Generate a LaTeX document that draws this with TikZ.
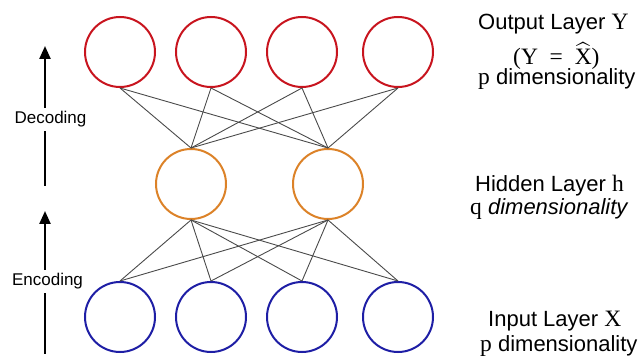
\documentclass[tikz,border=0pt]{standalone}
\usepackage{fontspec}
\setmainfont{Liberation Sans}
\newfontfamily\serifletters{Liberation Serif}
\usepackage{amsmath}
\usetikzlibrary{arrows.meta}
\definecolor{outred}{HTML}{C8141E}
\definecolor{hidorange}{HTML}{DC8228}
\definecolor{inblue}{HTML}{1E1EA5}
\definecolor{wire}{HTML}{4A4A4A}
% serif letter, enlarged so its capitals match the sans capitals
\newcommand{\sletter}[1]{{\serifletters\fontsize{23.5}{26}\selectfont #1}}
\begin{document}
\begin{tikzpicture}[x=1pt,y=-1pt,
  neuron/.style={circle,draw,line width=2pt,minimum size=70pt,inner sep=0pt},
  outn/.style={neuron,draw=outred},
  hidn/.style={neuron,draw=hidorange},
  inn/.style={neuron,draw=inblue},
  wireline/.style={draw=wire,line width=0.9pt},
  flow/.style={line width=2.4pt,-{Triangle[width=11pt,length=13pt]}},
  sidelabel/.style={font=\fontsize{17}{19}\selectfont,fill=white,inner xsep=1pt,inner ysep=4pt},
  layerlabel/.style={font=\fontsize{22}{24}\selectfont,inner sep=0pt,anchor=base west}]
\useasboundingbox (0,0) rectangle (641,358);

% output layer
\node[outn] (o1) at (120,52) {};
\node[outn] (o2) at (211,52) {};
\node[outn] (o3) at (302,52) {};
\node[outn] (o4) at (398,52) {};
% hidden layer
\node[hidn] (h1) at (191,184) {};
\node[hidn] (h2) at (328,184) {};
% input layer
\node[inn] (i1) at (120,317) {};
\node[inn] (i2) at (211,317) {};
\node[inn] (i3) at (302,317) {};
\node[inn] (i4) at (398,317) {};

% fully connected weights
\foreach \o in {o1,o2,o3,o4}
  \foreach \h in {h1,h2}
    \draw[wireline] (\o.south) -- (\h.north);
\foreach \i in {i1,i2,i3,i4}
  \foreach \h in {h1,h2}
    \draw[wireline] (\i.north) -- (\h.south);

% encoding / decoding arrows
\coordinate (decbot) at (45,186);
\coordinate (dectop) at (45,46);
\coordinate (encbot) at (45,354);
\coordinate (enctop) at (45,211);
\draw[flow] (decbot) -- (dectop);
\draw[flow] (encbot) -- (enctop);
\node[sidelabel] (declab) at (50.5,119.5) {Decoding};
\node[sidelabel] (enclab) at (47.5,281.5) {Encoding};

% layer descriptions
\node[layerlabel] (outa) at (478,30) {Output Layer \sletter{Y}};
\node[layerlabel] (outb) at (513,65) {\sletter{(Y\enspace=\enspace$\widehat{\text{\sletter{X}}}$)}};
\node[layerlabel] (outc) at (478,85) {\sletter{p} dimensionality};
\node[layerlabel] (hida) at (475,192) {Hidden Layer \sletter{h}};
\node[layerlabel] (hidb) at (470,215) {\sletter{q} \textit{dimensionality}};
\node[layerlabel] (ina) at (488,327) {Input Layer \sletter{X}};
\node[layerlabel] (inb) at (480,352) {\sletter{p} dimensionality};
\end{tikzpicture}
\end{document}
